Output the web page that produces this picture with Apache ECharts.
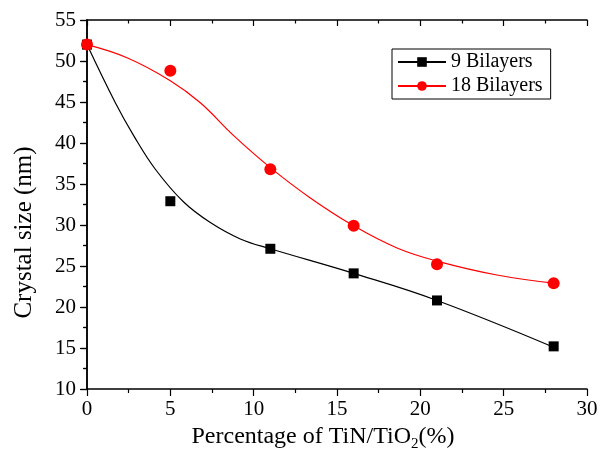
<!DOCTYPE html>
<html>
<head>
<meta charset="utf-8">
<script src="https://cdn.jsdelivr.net/npm/echarts@6/dist/echarts.min.js"></script>
<style>
  html, body { margin: 0; padding: 0; background: #fff; }
  #chart { width: 603px; height: 463px; }
</style>
</head>
<body>
<div id="chart"></div>
<script>
// Measured crystal sizes (nm) against TiN/TiO2 percentage
const xTicks = [0, 5, 10, 15, 20, 25, 30];
const yTicks = [10, 15, 20, 25, 30, 35, 40, 45, 50, 55];

const pct9 = [0, 5, 11, 16, 21, 28];
const size9 = [52.0, 32.9, 27.1, 24.1, 20.8, 15.2];
const pct18 = [0, 5, 11, 16, 21, 28];
const size18 = [52.0, 48.8, 36.8, 29.9, 25.2, 22.9];

// Fitted trend curves sampled along x
const fitX9 = [0, 1.7, 2.8, 4.1, 5.8, 7.4, 9.2, 11, 16, 21, 28];
const fitY9 = [52.0, 44.9, 40.9, 36.8, 32.8, 30.3, 28.3, 27.1, 24.1, 20.8, 15.1];
const fitX18 = [0, 2.4, 5, 6.8, 8.8, 11, 13.4, 16, 18.6, 21, 24.6, 28];
const fitY18 = [52.0, 50.4, 47.6, 44.9, 40.9, 37.0, 33.3, 29.9, 27.2, 25.6, 23.9, 22.9];

const names = ['9 Bilayers', '18 Bilayers'];
const colors = ['#000000', '#ff0000'];

const pairs = (xs, ys) => xs.map((x, i) => [x, ys[i]]);
const FONT = 'Liberation Serif';

const chart = echarts.init(document.getElementById('chart'));

const frameAxis = {
  axisLine: { show: true, lineStyle: { color: '#000', width: 1.5 } },
  axisTick: { show: true, inside: true, length: 6, lineStyle: { color: '#000', width: 1.2 } },
  minorTick: { show: true, splitNumber: 2, length: 3.5, lineStyle: { color: '#000', width: 1.2 } },
  axisLabel: { show: false },
  splitLine: { show: false }
};

chart.setOption({
  animation: false,
  backgroundColor: '#fff',
  grid: { left: 87, right: 16, top: 20, bottom: 74, containLabel: false },
  legend: {
    data: names,
    orient: 'vertical',
    left: 392,
    top: 49,
    width: 156,
    padding: [3, 8, 3, 5],
    itemGap: 4,
    itemWidth: 48,
    itemHeight: 12,
    borderColor: '#000',
    borderWidth: 1,
    textStyle: { fontFamily: FONT, fontSize: 20, color: '#000', padding: [0, 0, 0, 0] }
  },
  xAxis: [
    {
      type: 'value', min: 0, max: 30, interval: 5, position: 'bottom',
      name: 'Percentage of TiN/TiO{sub|2}(%)',
      nameLocation: 'middle', nameGap: 33,
      nameTextStyle: {
        fontFamily: FONT, fontSize: 24, color: '#000', padding: [0, 28, 0, 0],
        rich: { sub: { fontFamily: FONT, fontSize: 15, color: '#000', padding: [14, 0, 0, 0] } }
      },
      axisLine: { show: true, lineStyle: { color: '#000', width: 1.5 } },
      axisTick: { show: true, length: 7, lineStyle: { color: '#000', width: 1.2 } },
      minorTick: { show: true, splitNumber: 2, length: 4, lineStyle: { color: '#000', width: 1.2 } },
      axisLabel: { fontFamily: FONT, fontSize: 21, color: '#000', margin: 10,
        formatter: v => xTicks.includes(v) ? String(v) : '' },
      splitLine: { show: false }
    },
    Object.assign({ type: 'value', min: 0, max: 30, interval: 5, position: 'top' }, frameAxis)
  ],
  yAxis: [
    {
      type: 'value', min: 10, max: 55, interval: 5, position: 'left',
      name: 'Crystal size (nm)',
      nameLocation: 'middle', nameGap: 50,
      nameTextStyle: { fontFamily: FONT, fontSize: 25, color: '#000', padding: [0, 56, 0, 0] },
      axisLine: { show: true, lineStyle: { color: '#000', width: 1.5 } },
      axisTick: { show: true, length: 7, lineStyle: { color: '#000', width: 1.2 } },
      minorTick: { show: true, splitNumber: 2, length: 4, lineStyle: { color: '#000', width: 1.2 } },
      axisLabel: { fontFamily: FONT, fontSize: 21, color: '#000', margin: 11,
        formatter: v => yTicks.includes(v) ? String(v) : '' },
      splitLine: { show: false }
    },
    Object.assign({ type: 'value', min: 10, max: 55, interval: 5, position: 'right' }, frameAxis)
  ],
  series: [
    {
      name: names[0], type: 'line', data: pairs(fitX9, fitY9),
      smooth: 0.4,
      symbol: 'rect', symbolSize: 10, showSymbol: false,
      itemStyle: { color: colors[0], opacity: 1 },
      lineStyle: { color: colors[0], width: 1.2 }, z: 2
    },
    {
      name: names[1], type: 'line', data: pairs(fitX18, fitY18),
      smooth: 0.4,
      symbol: 'circle', symbolSize: 11, showSymbol: false,
      itemStyle: { color: colors[1], opacity: 1 },
      lineStyle: { color: colors[1], width: 1.2 }, z: 2
    },
    {
      name: names[0], type: 'scatter', data: pairs(pct9, size9),
      symbol: 'rect', symbolSize: 10,
      itemStyle: { color: colors[0], opacity: 1 }, z: 3
    },
    {
      name: names[1], type: 'scatter', data: pairs(pct18, size18),
      symbol: 'circle', symbolSize: 12,
      itemStyle: { color: colors[1], opacity: 1 }, z: 3
    }
  ]
});
</script>
</body>
</html>
